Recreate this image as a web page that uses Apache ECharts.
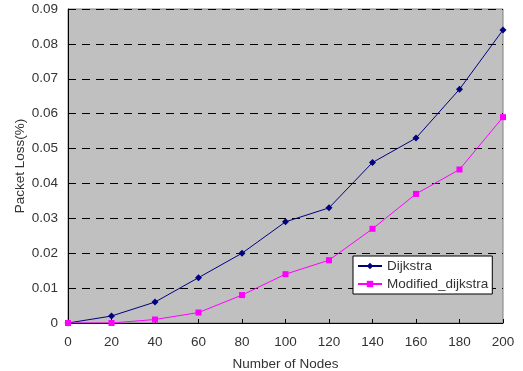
<!DOCTYPE html>
<html><head><meta charset="utf-8">
<script src="https://cdn.jsdelivr.net/npm/echarts@6/dist/echarts.min.js"></script>
<style>html,body{margin:0;padding:0;background:#fff}#c{width:523px;height:371px}</style>
</head><body><div id="c"></div>
<script>
const nodes = [0, 20, 40, 60, 80, 100, 120, 140, 160, 180, 200];
const dijkstra = [0, 0.002, 0.006, 0.013, 0.020, 0.029, 0.033, 0.046, 0.053, 0.067, 0.084];
const modified = [0, 0, 0.001, 0.003, 0.008, 0.014, 0.018, 0.027, 0.037, 0.044, 0.059];
const seriesNames = ['Dijkstra', 'Modified_dijkstra'];
const xName = 'Number of Nodes';
const yName = 'Packet Loss(%)';

const font = 'Liberation Sans, Arial, sans-serif';
const fs = 13.5;
const tc = '#333';
const chart = echarts.init(document.getElementById('c'), null, {renderer: 'canvas'});
chart.setOption({
  animation: false,
  textStyle: {fontFamily: font},
  grid: {left: 68, top: 9, right: 20, bottom: 48, show: true, backgroundColor: '#c0c0c0', borderColor: '#808080', borderWidth: 1,
    outerBoundsMode: 'none', containLabel: false},
  legend: {
    data: seriesNames, orient: 'vertical', left: 353, top: 256,
    backgroundColor: '#fff', borderColor: '#000', borderWidth: 1,
    padding: [3, 4, 3, 4], itemGap: 4, itemWidth: 24, itemHeight: 8,
    textStyle: {fontFamily: font, fontSize: fs, color: tc}
  },
  xAxis: {
    type: 'value', min: 0, max: 200, interval: 20,
    name: xName, nameLocation: 'middle', nameGap: 34, nameMoveOverlap: false,
    nameTextStyle: {fontFamily: font, fontSize: fs, color: tc},
    axisLine: {lineStyle: {color: '#000', width: 1}},
    axisTick: {inside: true, length: 4, lineStyle: {color: '#000'}},
    axisLabel: {fontFamily: font, fontSize: fs, color: tc, margin: 12},
    splitLine: {show: false}
  },
  yAxis: {
    type: 'value', min: 0, max: 0.09, interval: 0.01,
    name: yName, nameLocation: 'middle', nameGap: 41, nameMoveOverlap: false,
    nameTextStyle: {fontFamily: font, fontSize: fs, color: tc},
    axisLine: {show: true, lineStyle: {color: '#000', width: 1}},
    axisTick: {show: true, inside: true, length: 4, lineStyle: {color: '#000'}},
    axisLabel: {fontFamily: font, fontSize: fs, color: tc, margin: 10,
      formatter: v => v === 0 ? '0' : v.toFixed(2)},
    splitLine: {show: true, lineStyle: {color: '#000', type: [8, 6], width: 1}}
  },
  series: [
    {name: seriesNames[0], type: 'line', data: nodes.map((n, i) => [n, dijkstra[i]]),
      symbol: 'diamond', symbolSize: 7, color: '#000080',
      lineStyle: {color: '#000080', width: 1}, itemStyle: {color: '#000080'}},
    {name: seriesNames[1], type: 'line', data: nodes.map((n, i) => [n, modified[i]]),
      symbol: 'rect', symbolSize: 6, color: '#ff00ff',
      lineStyle: {color: '#ff00ff', width: 1}, itemStyle: {color: '#ff00ff'}}
  ]
});
</script></body></html>
